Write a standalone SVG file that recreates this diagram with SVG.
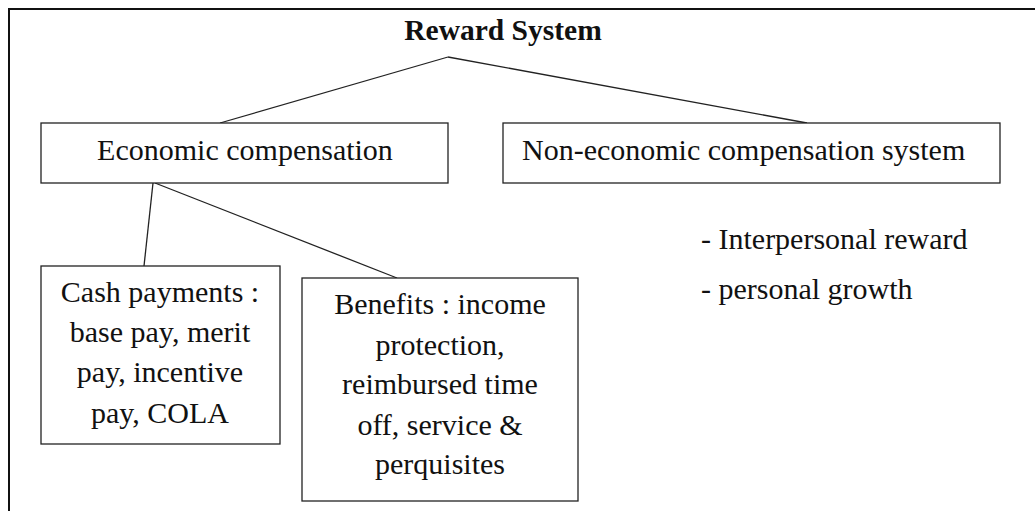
<svg xmlns="http://www.w3.org/2000/svg" width="1035" height="511" viewBox="0 0 1035 511">
<style>
text{font-family:"Liberation Serif","Times New Roman",serif;font-size:30px;fill:#111}
.b{font-weight:bold;font-size:29.5px}
.m{text-anchor:middle}
.box{fill:#fff;stroke:#222;stroke-width:1.3}
.con line{stroke:#222;stroke-width:1.3}
</style>
<rect x="0" y="0" width="1035" height="511" fill="#fff"/>
<path d="M9 520 V9 H1045" fill="none" stroke="#111" stroke-width="2"/>
<g class="con" id="connectors">
<line x1="448" y1="57" x2="220" y2="123"/>
<line x1="448" y1="57" x2="807" y2="123"/>
<line x1="153" y1="183" x2="144" y2="266"/>
<line x1="155" y1="183" x2="397" y2="278"/>
</g>
<g id="title"><text class="b m" x="503" y="40">Reward System</text></g>
<g id="economic">
<rect class="box" x="41" y="123" width="407" height="60"/>
<text class="m" x="245" y="159.5">Economic compensation</text>
</g>
<g id="noneconomic">
<rect class="box" x="503" y="123" width="497" height="60"/>
<text x="522" y="159.5">Non-economic compensation system</text>
</g>
<g id="cash">
<rect class="box" x="41" y="266" width="239" height="178"/>
<text class="m" x="160" y="301.5">Cash payments :</text>
<text class="m" x="160" y="342">base pay, merit</text>
<text class="m" x="160" y="382">pay, incentive</text>
<text class="m" x="160" y="422.5">pay, COLA</text>
</g>
<g id="benefits">
<rect class="box" x="302" y="278" width="276" height="223"/>
<text class="m" x="440" y="313.5">Benefits : income</text>
<text class="m" x="440" y="355">protection,</text>
<text class="m" x="440" y="393.5">reimbursed time</text>
<text class="m" x="440" y="435">off, service &amp;</text>
<text class="m" x="440" y="473.5">perquisites</text>
</g>
<g id="noneconomic-items">
<text x="701" y="248.5">- Interpersonal reward</text>
<text x="701" y="298.5">- personal growth</text>
</g>
</svg>
